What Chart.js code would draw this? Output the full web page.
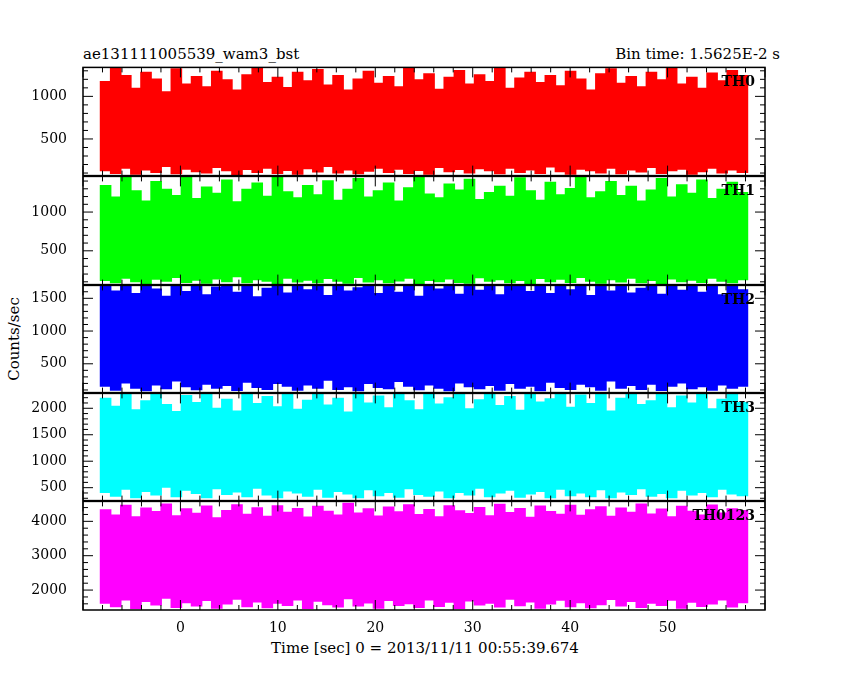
<!DOCTYPE html>
<html>
<head>
<meta charset="utf-8">
<script src="https://cdn.jsdelivr.net/npm/chart.js@4"></script>
<style>
  body { margin: 0; background: #fff; }
  #wrap { position: relative; width: 850px; height: 680px; font-family: "DejaVu Serif", serif; overflow: hidden; }
  canvas { position: absolute; }
  .txt { position: absolute; font-size: 15px; color: #000; white-space: nowrap; }
</style>
</head>
<body>
<div id="wrap">
  <div class="txt" style="left:83px;top:45px;">ae131111005539_wam3_bst</div>
  <div class="txt" style="right:70px;top:45px;">Bin time: 1.5625E-2 s</div>
  <div class="txt" style="left:-28px;top:330px;transform:rotate(-90deg);">Counts/sec</div>
  <div class="txt" style="left:0;width:850px;text-align:center;top:639px;">Time [sec] 0 = 2013/11/11 00:55:39.674</div>
</div>
<script>
//! =============== Data (envelope of each 1 s bin) =============== //
const timeStart = -8.2, timeEnd = 58.2, binCount = 64;

const th0Hi = [1180,1340,1250,1100,1290,1210,1060,1330,1150,1240,1120,1300,1200,1080,1260,1340,1170,1230,1110,1290,1190,1320,1140,1250,1080,1210,1300,1160,1240,1120,1340,1200,1270,1090,1230,1310,1150,1260,1180,1340,1100,1220,1290,1170,1250,1130,1300,1210,1080,1270,1330,1160,1240,1120,1290,1200,1340,1150,1230,1100,1280,1190,1310,1250];
const th0Lo = [120,90,150,80,130,100,170,85,140,110,95,160,120,75,135,100,150,90,125,80,145,105,170,95,130,85,115,150,100,140,90,125,80,160,110,135,95,145,120,85,150,100,130,90,165,110,80,140,120,95,150,85,130,105,160,90,120,140,80,110,150,95,130,100];

const th1Hi = [1350,1200,1460,1280,1150,1400,1300,1220,1460,1180,1330,1250,1420,1140,1300,1380,1210,1460,1270,1190,1350,1230,1410,1160,1300,1440,1200,1280,1380,1150,1320,1460,1240,1190,1370,1290,1430,1170,1260,1340,1210,1450,1280,1160,1390,1230,1310,1460,1190,1270,1400,1220,1340,1150,1290,1440,1200,1360,1250,1420,1180,1300,1390,1260];
const th1Lo = [110,80,140,95,70,125,100,150,85,115,75,130,95,160,80,120,100,70,140,90,115,80,135,100,75,150,90,120,80,105,140,70,110,95,130,85,75,145,100,120,80,110,70,135,95,125,85,150,100,75,120,90,140,80,110,70,130,95,115,85,140,100,80,120];

const th2Hi = [1697,1620,1697,1580,1697,1650,1540,1697,1610,1697,1560,1680,1697,1600,1697,1530,1660,1697,1590,1697,1640,1697,1550,1697,1620,1670,1697,1580,1697,1600,1697,1540,1697,1650,1697,1570,1697,1630,1697,1560,1690,1697,1610,1697,1580,1697,1640,1697,1550,1697,1620,1697,1590,1660,1697,1570,1697,1630,1697,1600,1697,1560,1697,1640];
const th2Lo = [150,90,200,120,80,170,110,230,140,95,180,120,160,85,210,130,100,190,150,90,170,120,240,100,140,80,190,130,110,220,150,95,170,120,80,200,140,110,160,90,190,120,150,80,210,130,100,180,140,90,230,120,160,100,180,85,150,200,110,140,90,170,120,150];

const th3Hi = [2200,2050,2281,1980,2150,2281,2080,1950,2250,2120,2281,2010,2180,1960,2281,2100,2230,2040,2281,1990,2160,2281,2070,2200,1940,2281,2110,2240,2020,2281,2150,1980,2281,2090,2210,2281,2000,2170,2281,2060,2230,1970,2281,2130,2190,2281,2030,2260,2100,2281,1960,2200,2281,2080,2150,2281,2020,2240,2110,2281,2000,2180,2281,2120];
const th3Lo = [400,330,460,300,420,350,500,320,440,380,300,470,360,410,320,480,350,300,430,390,330,460,310,420,370,300,450,340,400,310,470,360,330,430,300,400,350,480,320,390,440,310,370,420,300,460,340,390,320,450,300,410,360,470,330,380,300,440,350,400,320,460,370,340];

const thAllHi = [4350,4200,4480,4150,4400,4300,4520,4180,4380,4250,4460,4120,4330,4500,4220,4410,4160,4470,4280,4390,4140,4450,4310,4200,4540,4260,4380,4170,4430,4290,4500,4210,4360,4150,4470,4320,4240,4420,4180,4510,4270,4390,4130,4460,4300,4220,4480,4190,4350,4440,4160,4400,4280,4520,4230,4370,4150,4450,4310,4200,4490,4260,4380,4330];
const thAllLo = [1600,1500,1700,1450,1650,1550,1750,1480,1620,1520,1680,1460,1580,1720,1500,1640,1470,1600,1540,1700,1450,1660,1560,1490,1730,1520,1610,1460,1680,1540,1590,1480,1700,1510,1630,1450,1670,1550,1600,1490,1720,1530,1640,1460,1580,1690,1500,1620,1470,1560,1710,1520,1650,1480,1600,1540,1690,1460,1630,1510,1580,1700,1490,1620];

const xTicks = [-10, 0, 10, 20, 30, 40, 50, 60];

const panels = [
  { name: 'TH0',    hi: th0Hi,   lo: th0Lo,   color: '#ff0000', min: 70,   max: 1340, ticks: [500, 1000],             minor: 100, top: 67,  h: 109 },
  { name: 'TH1',    hi: th1Hi,   lo: th1Lo,   color: '#00ff00', min: 64,   max: 1460, ticks: [500, 1000],             minor: 100, top: 176, h: 109 },
  { name: 'TH2',    hi: th2Hi,   lo: th2Lo,   color: '#0000ff', min: 60,   max: 1697, ticks: [500, 1000, 1500],       minor: 100, top: 285, h: 108 },
  { name: 'TH3',    hi: th3Hi,   lo: th3Lo,   color: '#00ffff', min: 256,  max: 2281, ticks: [500, 1000, 1500, 2000], minor: 100, top: 393, h: 108 },
  { name: 'TH0123', hi: thAllHi, lo: thAllLo, color: '#ff00ff', min: 1420, max: 4580, ticks: [2000, 3000, 4000],     minor: 200, top: 501, h: 109 }
];
const plotLeft = 83, plotRight = 765;

//! =============== Frame + inward ticks =============== //
const framePlugin = {
  id: 'frame',
  afterDraw(chart, args, opts) {
    const { ctx, chartArea: a, scales: { x, y } } = chart;
    ctx.save();
    ctx.strokeStyle = '#000';
    ctx.lineWidth = 1.5;
    ctx.strokeRect(a.left, a.top, a.right - a.left, a.bottom - a.top);
    ctx.lineWidth = 1;
    ctx.beginPath();
    for (let v = Math.ceil(y.min / opts.minor) * opts.minor; v <= y.max; v += opts.minor) {
      const py = y.getPixelForValue(v);
      const len = opts.ticks.includes(v) ? 10 : 5;
      ctx.moveTo(a.left, py); ctx.lineTo(a.left + len, py);
      ctx.moveTo(a.right, py); ctx.lineTo(a.right - len, py);
    }
    for (let v = -10; v <= 60; v += 2) {
      const px = x.getPixelForValue(v);
      const len = v % 10 === 0 ? 10 : 5;
      ctx.moveTo(px, a.top); ctx.lineTo(px, a.top + len);
      ctx.moveTo(px, a.bottom); ctx.lineTo(px, a.bottom - len);
    }
    ctx.stroke();
    ctx.fillStyle = '#000';
    ctx.font = 'bold 14px "DejaVu Serif"';
    ctx.textAlign = 'right';
    ctx.textBaseline = 'top';
    ctx.fillText(opts.name, a.right - 10, a.top + 8);
    ctx.restore();
  }
};

const wrap = document.getElementById('wrap');
const binW = (timeEnd - timeStart) / binCount;

function build(p, last, height, width) {
  const xAxisH = last ? 26 : 0;
  const canvas = document.createElement('canvas');
  canvas.width = width;
  canvas.height = height;
  wrap.appendChild(canvas);
  const data = p.hi.map((v, i) => ({ x: timeStart + (i + 0.5) * binW, y: [p.lo[i], v] }));
  const chart = new Chart(canvas, {
    type: 'bar',
    data: { datasets: [{ data, backgroundColor: p.color, borderWidth: 0, barPercentage: 1.15, categoryPercentage: 1 }] },
    options: {
      responsive: false,
      animation: false,
      devicePixelRatio: 1,
      layout: { padding: { top: 12, bottom: last ? 0 : 12, right: 20, left: 0 } },
      plugins: {
        legend: { display: false },
        tooltip: { enabled: false },
        frame: { minor: p.minor, ticks: p.ticks, name: p.name }
      },
      scales: {
        x: {
          type: 'linear', min: -10, max: 60, offset: false,
          display: last,
          grid: { display: false },
          border: { display: false },
          afterBuildTicks: s => { s.ticks = xTicks.map(v => ({ value: v })); },
          afterFit: s => { s.height = xAxisH; },
          ticks: {
            color: '#000', font: { family: 'DejaVu Serif', size: 14 }, maxRotation: 0, padding: 2,
            callback: v => (v === -10 || v === 60) ? '' : String(v)
          }
        },
        y: {
          min: p.min, max: p.max,
          grid: { display: false },
          border: { display: false },
          afterBuildTicks: s => { s.ticks = p.ticks.map(v => ({ value: v })); },
          afterFit: s => { s.width = 83; },
          ticks: { color: '#000', font: { family: 'DejaVu Serif', size: 14 }, padding: 8, callback: v => String(v) }
        }
      }
    },
    plugins: [framePlugin]
  });
  return { chart, canvas };
}

panels.forEach((p, idx) => {
  const last = idx === panels.length - 1;
  // first pass: measure how much room the chart keeps around its plot area
  const h0 = p.h + 60, w0 = 900;
  const t = build(p, last, h0, w0);
  const a = t.chart.chartArea;
  const extraH = h0 - (a.bottom - a.top), extraW = w0 - (a.right - a.left);
  t.chart.destroy(); t.canvas.remove();
  // second pass: exact plot size, then shift into place
  const r = build(p, last, p.h + extraH, (plotRight - plotLeft) + extraW);
  const b = r.chart.chartArea;
  r.canvas.style.top = (p.top - b.top) + 'px';
  r.canvas.style.left = (plotLeft - b.left) + 'px';
});
</script>
</body>
</html>
